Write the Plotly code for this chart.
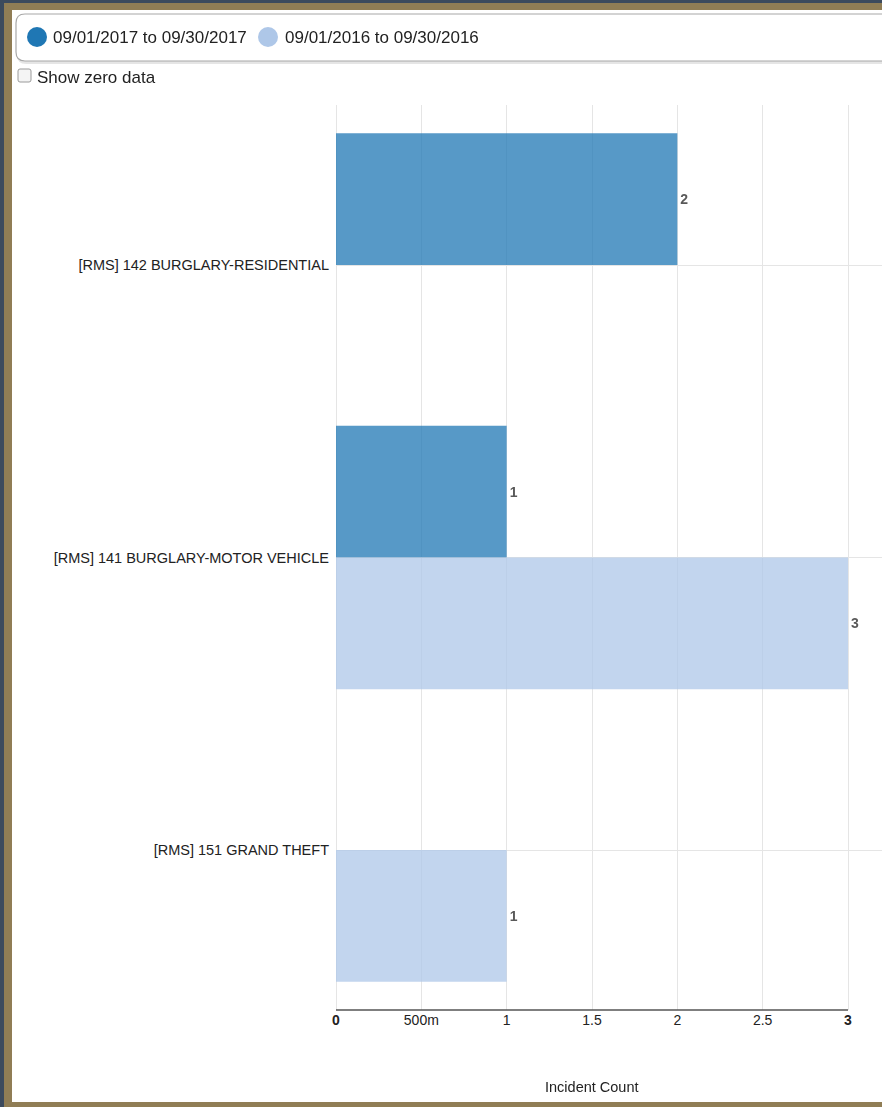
import plotly.graph_objects as go

# ---------------- data ----------------
categories = [
    "[RMS] 142 BURGLARY-RESIDENTIAL",
    "[RMS] 141 BURGLARY-MOTOR VEHICLE",
    "[RMS] 151 GRAND THEFT",
]
series_names = ["09/01/2017 to 09/30/2017", "09/01/2016 to 09/30/2016"]
counts_2017 = [2, 1, 0]
counts_2016 = [0, 3, 1]
tick_vals = [0, 0.5, 1, 1.5, 2, 2.5, 3]
tick_text = ["<b>0</b>", "500m", "1", "1.5", "2", "2.5", "<b>3</b>"]

# ---------------- geometry helpers (pixels -> paper) ----------------
W, H = 882, 1107
ML, MR, MT, MB = 336, 0, 105, 97
PW, PH = W - ML - MR, H - MT - MB
UNIT = (848 - 336) / 3.0


def px(x):
    return (x - ML) / PW


def py(y):
    return (H - MB - y) / PH


FONT = "Arial, 'Liberation Sans', sans-serif"
DARK = "#1f77b4"
LIGHT = "#aec7e8"

fig = go.Figure()
for name, vals, col in [(series_names[0], counts_2017, DARK), (series_names[1], counts_2016, LIGHT)]:
    fig.add_trace(go.Bar(
        y=categories, x=vals, name=name, orientation="h",
        marker=dict(color=col, line=dict(width=0)), opacity=0.75,
        text=[f"<b>{v}</b>" if v else "" for v in vals],
        textposition="outside", cliponaxis=False,
        textfont=dict(family=FONT, size=14, color="#222"),
        showlegend=False,
    ))

shapes = []
# page borders
shapes.append(dict(type="rect", xref="paper", yref="paper", x0=px(0), x1=px(W), y0=py(0), y1=py(H),
                   fillcolor="#907d55", line=dict(width=0), layer="below"))
shapes.append(dict(type="rect", xref="paper", yref="paper", x0=px(12), x1=px(W), y0=py(10), y1=py(1102),
                   fillcolor="white", line=dict(width=0), layer="below"))
shapes.append(dict(type="rect", xref="paper", yref="paper", x0=px(0), x1=px(4), y0=py(0), y1=py(H),
                   fillcolor="#3c4a5d", line=dict(width=0), layer="below"))
shapes.append(dict(type="rect", xref="paper", yref="paper", x0=px(0), x1=px(W), y0=py(0), y1=py(3),
                   fillcolor="#3c4a5d", line=dict(width=0), layer="below"))


def rrect(x0, y0, x1, y1, r):
    X = px
    Y = py
    return (f"M {X(x0+r)},{Y(y0)} L {X(x1-r)},{Y(y0)} Q {X(x1)},{Y(y0)} {X(x1)},{Y(y0+r)} "
            f"L {X(x1)},{Y(y1-r)} Q {X(x1)},{Y(y1)} {X(x1-r)},{Y(y1)} "
            f"L {X(x0+r)},{Y(y1)} Q {X(x0)},{Y(y1)} {X(x0)},{Y(y1-r)} "
            f"L {X(x0)},{Y(y0+r)} Q {X(x0)},{Y(y0)} {X(x0+r)},{Y(y0)} Z")


# legend box shadow + box
shapes.append(dict(type="path", xref="paper", yref="paper", path=rrect(17, 16, 900, 64, 9),
                   fillcolor="rgba(0,0,0,0.10)", line=dict(width=0), layer="above"))
shapes.append(dict(type="path", xref="paper", yref="paper", path=rrect(16, 14, 900, 61, 9),
                   fillcolor="white", line=dict(color="#a8a8a8", width=1.2), layer="above"))
# legend circles
for cx, col in [(37, DARK), (268, LIGHT)]:
    shapes.append(dict(type="circle", xref="paper", yref="paper", x0=px(cx - 10), x1=px(cx + 10),
                       y0=py(37 + 10), y1=py(37 - 10), fillcolor=col, line=dict(width=0), layer="above"))
# checkbox
shapes.append(dict(type="path", xref="paper", yref="paper", path=rrect(18, 69, 31, 82, 2),
                   fillcolor="#f4f4f4", line=dict(color="#9a9a9a", width=1), layer="above"))
# x axis line (0..3)
shapes.append(dict(type="line", xref="x", yref="paper", x0=0, x1=3, y0=0, y1=0,
                   line=dict(color="#555", width=1.5), layer="above"))

annotations = [
    dict(text=series_names[0], xref="paper", yref="paper", x=px(51), y=py(37), xanchor="left", yanchor="middle",
         showarrow=False, font=dict(family=FONT, size=17, color="#222")),
    dict(text=series_names[1], xref="paper", yref="paper", x=px(283), y=py(37), xanchor="left", yanchor="middle",
         showarrow=False, font=dict(family=FONT, size=17, color="#222")),
    dict(text="Show zero data", xref="paper", yref="paper", x=px(35), y=py(78), xanchor="left", yanchor="middle",
         showarrow=False, font=dict(family=FONT, size=17, color="#222")),
    dict(text="Incident Count", xref="x", yref="paper", x=1.5, y=py(1087), xanchor="center", yanchor="middle",
         showarrow=False, font=dict(family=FONT, size=14.5, color="#222")),
]

fig.update_layout(
    width=W, height=H,
    margin=dict(l=ML, r=MR, t=MT, b=MB, pad=0),
    paper_bgcolor="white", plot_bgcolor="rgba(0,0,0,0)",
    barmode="group", bargap=0.1, bargroupgap=0,
    font=dict(family=FONT, size=14, color="#333"),
    xaxis=dict(range=[0, PW / UNIT], tickvals=tick_vals, ticktext=tick_text, showgrid=True,
               gridcolor="#e5e5e5", gridwidth=1, zeroline=True, zerolinecolor="#e5e5e5", zerolinewidth=1,
               showline=False, ticks="", tickfont=dict(family=FONT, size=14, color="#222"), fixedrange=True),
    yaxis=dict(type="category", categoryorder="array", categoryarray=categories,
               range=[2.547, -0.547], showgrid=True, gridcolor="#e5e5e5", gridwidth=1,
               showline=False, ticks="", ticklabelstandoff=6,
               tickfont=dict(family=FONT, size=14.5, color="#222"), fixedrange=True),
    shapes=shapes, annotations=annotations, showlegend=False,
)

fig.write_html("out.html", config={"displayModeBar": False},
               post_script="document.body.style.margin='0px';document.body.style.padding='0px';")
